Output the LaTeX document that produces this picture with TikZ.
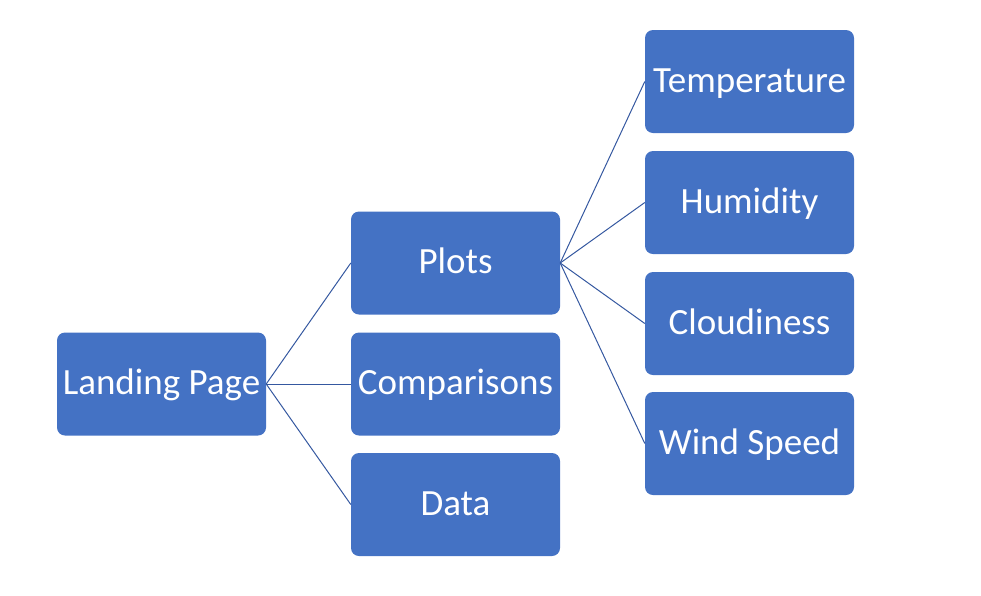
\documentclass[tikz,border=0pt]{standalone}
\usepackage{fontspec}
\setmainfont{Carlito}
\definecolor{boxblue}{HTML}{4472C4}
\definecolor{linkblue}{HTML}{3558A0}
\begin{document}
\begin{tikzpicture}[x=1pt,y=-1pt,
  box/.style={fill=boxblue, draw=none, rounded corners=8pt, minimum width=209pt, minimum height=103pt,
    inner sep=0pt, text=white, font=\fontsize{37}{44}\selectfont, anchor=center,
    text height=24pt, text depth=3pt},
  link/.style={draw=linkblue, line width=1pt}]
\useasboundingbox (0,0) rectangle (981,595);
\node[box] (landing) at (161.5,384) {Landing Page};
\node[box] (plots) at (455.5,263) {Plots};
\node[box] (comp) at (455.5,384) {Comparisons};
\node[box] (data) at (455.5,504.5) {Data};
\node[box] (temp) at (749.5,81.5) {Temperature};
\node[box] (hum) at (749.5,202.5) {Humidity};
\node[box] (cloud) at (749.5,323.5) {Cloudiness};
\node[box] (wind) at (749.5,443.5) {Wind Speed};
\draw[link] (landing.east) -- (plots.west);
\draw[link] (landing.east) -- (comp.west);
\draw[link] (landing.east) -- (data.west);
\draw[link] (plots.east) -- (temp.west);
\draw[link] (plots.east) -- (hum.west);
\draw[link] (plots.east) -- (cloud.west);
\draw[link] (plots.east) -- (wind.west);
\end{tikzpicture}
\end{document}
